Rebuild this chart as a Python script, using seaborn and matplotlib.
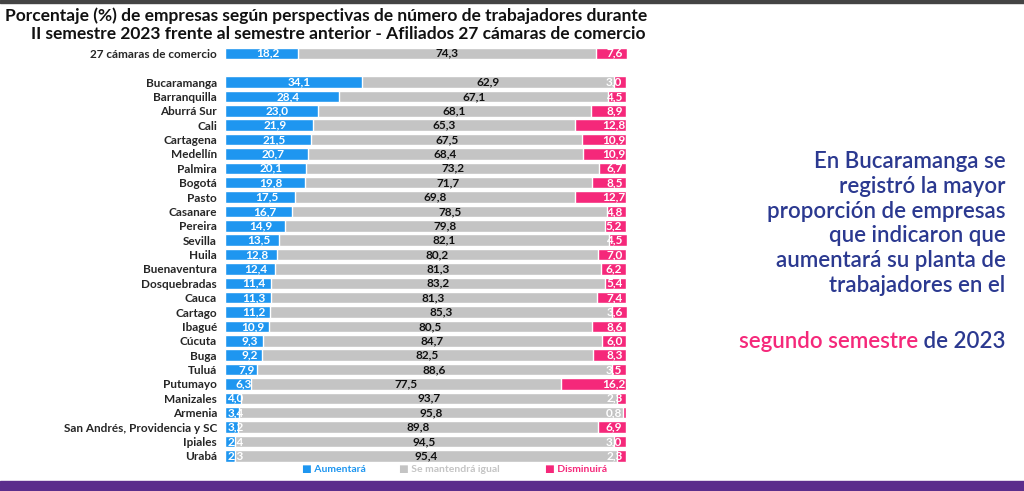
import numpy as np
import pandas as pd
import matplotlib.pyplot as plt
import seaborn as sns

regiones = ["27 cámaras de comercio", "Bucaramanga", "Barranquilla", "Aburrá Sur", "Cali", "Cartagena",
            "Medellín", "Palmira", "Bogotá", "Pasto", "Casanare", "Pereira", "Sevilla", "Huila",
            "Buenaventura", "Dosquebradas", "Cauca", "Cartago", "Ibagué", "Cúcuta", "Buga", "Tuluá",
            "Putumayo", "Manizales", "Armenia", "San Andrés, Providencia y SC", "Ipiales", "Urabá"]
aumentara = [18.2, 34.1, 28.4, 23.0, 21.9, 21.5, 20.7, 20.1, 19.8, 17.5, 16.7, 14.9, 13.5, 12.8,
             12.4, 11.4, 11.3, 11.2, 10.9, 9.3, 9.2, 7.9, 6.3, 4.0, 3.4, 3.2, 2.4, 2.3]
igual = [74.3, 62.9, 67.1, 68.1, 65.3, 67.5, 68.4, 73.2, 71.7, 69.8, 78.5, 79.8, 82.1, 80.2,
         81.3, 83.2, 81.3, 85.3, 80.5, 84.7, 82.5, 88.6, 77.5, 93.7, 95.8, 89.8, 94.5, 95.4]
disminuira = [7.6, 3.0, 4.5, 8.9, 12.8, 10.9, 10.9, 6.7, 8.5, 12.7, 4.8, 5.2, 4.5, 7.0,
              6.2, 5.4, 7.4, 3.6, 8.6, 6.0, 8.3, 3.5, 16.2, 2.3, 0.8, 6.9, 3.0, 2.3]

AZUL, GRIS, ROSA = "#1e96f0", "#c4c4c4", "#f5287a"
AZUL_OSC = "#2b3990"

sns.set_style("white")
plt.rcParams['font.family'] = ['Lato', 'DejaVu Sans']

df = pd.DataFrame({"region": regiones, "aum": aumentara, "igu": igual, "dis": disminuira})
df["pos"] = [0] + list(range(2, 2 + len(regiones) - 1))
df["tot"] = df["aum"] + df["igu"] + df["dis"]

fig = plt.figure(figsize=(10.24, 4.91), dpi=100)
ax = fig.add_axes([0.22, 0.057, 0.392, 0.849])

ax.barh(df["pos"], df["tot"], color=ROSA, height=0.8)
ax.barh(df["pos"], df["aum"] + df["igu"], color=GRIS, height=0.8)
sns.barplot(x=df["aum"], y=df["pos"], orient="h", native_scale=True, color=AZUL,
            width=0.8, ax=ax, saturation=1)

for _, r in df.iterrows():
    fs = 8.5
    ax.text(r["aum"] / 2 + 1.5 if r["aum"] > 6 else 2.5, r["pos"], f"{r['aum']:.1f}".replace(".", ","),
            ha="center", va="center", color="white", fontsize=fs, fontweight="bold")
    ax.text(r["aum"] + r["igu"] / 2, r["pos"], f"{r['igu']:.1f}".replace(".", ","),
            ha="center", va="center", color="#111111", fontsize=fs, fontweight="bold")
    ax.text(r["tot"] - 3, r["pos"], f"{r['dis']:.1f}".replace(".", ","),
            ha="center", va="center", color="white", fontsize=fs, fontweight="bold")

ax.set_xlim(0, max(df["tot"]))
ax.set_ylim(28.5, -0.5)
ax.set_yticks(df["pos"])
ax.set_yticklabels(df["region"], fontsize=8.5, fontweight="bold")
ax.tick_params(axis="y", length=0, pad=6)
ax.set_xticks([])
ax.set_xlabel("")
ax.set_ylabel("")
sns.despine(ax=ax, left=True, bottom=True)

fig.text(0.005, 0.968, "Porcentaje (%) de empresas según perspectivas de número de trabajadores durante",
         fontsize=12.5, fontweight="bold", color="#111111", va="center")
fig.text(0.03, 0.93, "II semestre 2023 frente al semestre anterior - Afiliados 27 cámaras de comercio",
         fontsize=12.5, fontweight="bold", color="#111111", va="center")

for x, lab, col in [(0.295, "Aumentará", AZUL), (0.39, "Se mantendrá igual", GRIS), (0.532, "Disminuirá", ROSA)]:
    fig.text(x, 0.043, "■ " + lab, color=col, fontsize=7.5, fontweight="bold", va="center")

fig.text(0.982, 0.545,
         "En Bucaramanga se\nregistró la mayor\nproporción de empresas\nque indicaron que\naumentará su planta de\ntrabajadores en el",
         ha="right", va="center", fontsize=16, color=AZUL_OSC, linespacing=1.22, fontweight="semibold")
t_fin = fig.text(0.982, 0.305, " de 2023", ha="right", va="center", fontsize=16,
                 color=AZUL_OSC, fontweight="semibold")
fig.text(0, 0.5, "segundo semestre", transform=t_fin.get_transform() if False else None,
         fontsize=1, alpha=0) if False else None
plt.annotate("segundo semestre", xy=(0, 0.5), xycoords=t_fin, ha="right", va="center",
             fontsize=16, color=ROSA, fontweight="semibold")

fig.patches.append(plt.Rectangle((0, 0), 1, 0.02, transform=fig.transFigure, color="#5b2d8c"))
fig.patches.append(plt.Rectangle((0, 0.994), 1, 0.006, transform=fig.transFigure, color="#444444"))

fig.savefig("out.png", dpi=100)
